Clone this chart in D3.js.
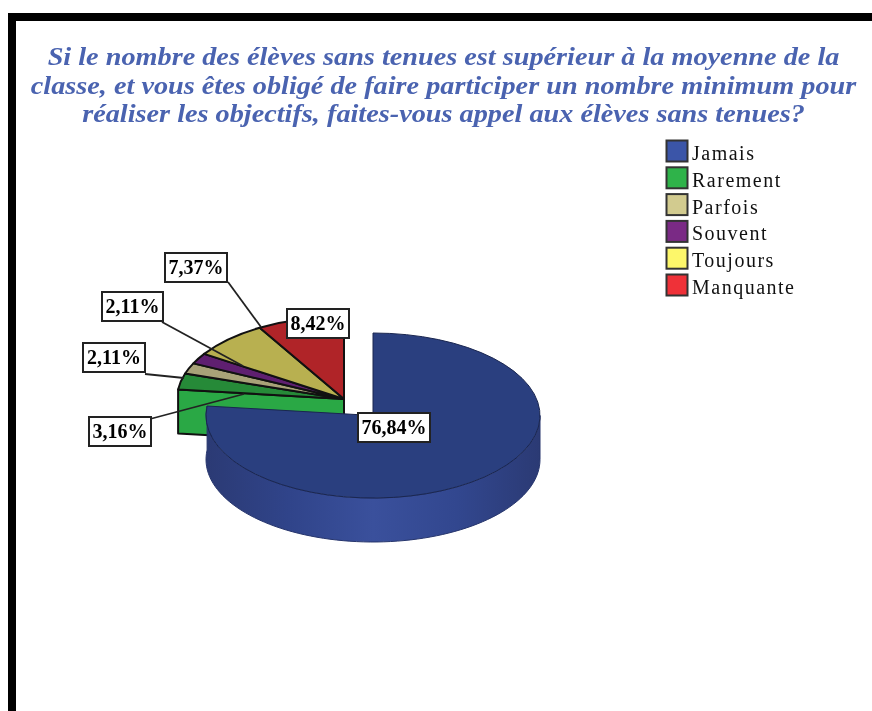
<!DOCTYPE html>
<html><head><meta charset="utf-8">
<script src="https://cdn.jsdelivr.net/npm/d3@7"></script>
<style>html,body{margin:0;padding:0;background:#fff;overflow:hidden}svg{display:block;filter:blur(.6px)}</style>
</head><body><svg id="c" width="872" height="711"></svg>
<script>
const categories=["Jamais","Rarement","Parfois","Souvent","Toujours","Manquante"];
const values=[76.84,3.16,2.11,2.11,7.37,8.42];
const labels=["76,84%","3,16%","2,11%","2,11%","7,37%","8,42%"];
const legendColors=["#3b55a8","#2fb34a","#d2cb8f","#7a2a85","#fdf76a","#ef3138"];
const topColors=["#2a3f7f","#268a38","#a8a278","#5f1f70","#b8b050","#b02428"];
const titleLines=["Si le nombre des élèves sans tenues est supérieur à la moyenne de la","classe, et vous êtes obligé de faire participer un nombre minimum pour","réaliser les objectifs, faites-vous appel aux élèves sans tenues?"];

const svg=d3.select("#c");
const defs=svg.append("defs");
const RX=167,RY=82.5,DEPTH=44;
const blueC={x:373,y:415.5},restC={x:344,y:399};
const arcs=d3.pie().sort(null).value(d=>d)(values);
const arc=d3.arc().innerRadius(0).outerRadius(RX);
const pt=(c,a,dy=0)=>[c.x+RX*Math.sin(a),c.y-RY*Math.cos(a)+dy];

// frame
svg.append("rect").attr("x",8).attr("y",13).attr("width",872).attr("height",8).attr("fill","#000");
svg.append("rect").attr("x",8).attr("y",13).attr("width",8).attr("height",711).attr("fill","#000");

// title
svg.append("g").selectAll("text").data(titleLines).join("text")
 .attr("transform",(d,i)=>`translate(443.5,${65+i*28.5}) scale(1.108,1)`).attr("text-anchor","middle")
 .attr("font-family","'Liberation Serif'").attr("font-weight","bold").attr("font-style","italic")
 .attr("font-size",25.5).attr("fill","#4a63b0").text(d=>d);

// gradient of blue side
const g=defs.append("linearGradient").attr("id","side");
[[0,"#2b3a74"],[.25,"#30448a"],[.5,"#3a509c"],[.75,"#32478f"],[1,"#2b3a74"]].forEach(s=>g.append("stop").attr("offset",s[0]).attr("stop-color",s[1]));

const line=d3.line();
const stroke="#111";

// green cut face
const cut=arcs[0].endAngle;
const a0=pt(restC,cut),c0=[restC.x,restC.y];
svg.append("path").attr("d",line([a0,c0,[c0[0],c0[1]+DEPTH],[a0[0],a0[1]+DEPTH]])+"Z")
 .attr("fill","#2aa845").attr("stroke",stroke).attr("stroke-width",2).attr("stroke-linejoin","round");

// back slices top surfaces
const rest=svg.append("g").attr("transform",`translate(${restC.x},${restC.y}) scale(1,${RY/RX})`);
rest.selectAll("path").data(arcs.slice(1)).join("path")
 .attr("d",arc).attr("fill",d=>topColors[d.index])
 .attr("stroke",stroke).attr("stroke-width",2).attr("vector-effect","non-scaling-stroke").attr("stroke-linejoin","round");

// leaders
const leaders=[
 {from:[150,419],to:[244,394]},
 {from:[145,374],to:[184,378]},
 {from:[162,322],to:[243,366]},
 {from:[228,282],to:[261,327]}
];
svg.append("g").selectAll("line").data(leaders).join("line")
 .attr("x1",d=>d.from[0]).attr("y1",d=>d.from[1]).attr("x2",d=>d.to[0]).attr("y2",d=>d.to[1])
 .attr("stroke","#222").attr("stroke-width",1.8);

// blue side
const n=80,sa=Math.PI/2,ea=cut;
const outer=d3.range(n+1).map(i=>sa+(ea-sa)*i/n);
const sidePts=outer.map(a=>pt(blueC,a)).concat(outer.slice().reverse().map(a=>pt(blueC,a,DEPTH)));
svg.append("path").attr("d",line(sidePts)+"Z").attr("fill","url(#side)").attr("stroke","#26356c").attr("stroke-width",1);

// blue top
svg.append("g").attr("transform",`translate(${blueC.x},${blueC.y}) scale(1,${RY/RX})`)
 .append("path").datum(arcs[0]).attr("d",arc).attr("fill",topColors[0])
 .attr("stroke","#1a2650").attr("stroke-width",1).attr("vector-effect","non-scaling-stroke").attr("stroke-linejoin","round");

// value labels
const boxes=[[358,413,72,29],[89,417,62,29],[83,343,62,29],[102,292,61,29],[165,253,62,29],[287,309,62,29]];
const lab=svg.append("g").selectAll("g").data(labels).join("g");
lab.append("rect").attr("x",(d,i)=>boxes[i][0]).attr("y",(d,i)=>boxes[i][1]).attr("width",(d,i)=>boxes[i][2]).attr("height",(d,i)=>boxes[i][3])
 .attr("fill","#fff").attr("stroke","#222").attr("stroke-width",2);
lab.append("text").attr("x",(d,i)=>boxes[i][0]+boxes[i][2]/2).attr("y",(d,i)=>boxes[i][1]+21)
 .attr("text-anchor","middle").attr("font-family","'Liberation Serif'").attr("font-weight","bold").attr("font-size",20).attr("fill","#000").text(d=>d);

// legend
const y=d3.scalePoint().domain(categories).range([140,274]);
const leg=svg.append("g").selectAll("g").data(categories).join("g").attr("transform",d=>`translate(666,${y(d)})`);
leg.append("rect").attr("x",.5).attr("y",.5).attr("width",21).attr("height",21).attr("fill",(d,i)=>legendColors[i]).attr("stroke","#333").attr("stroke-width",2);
leg.append("text").attr("x",26).attr("y",20).attr("font-family","'Liberation Serif'").attr("font-size",20).attr("letter-spacing",1.5).attr("fill","#111").text(d=>d);
</script></body></html>
